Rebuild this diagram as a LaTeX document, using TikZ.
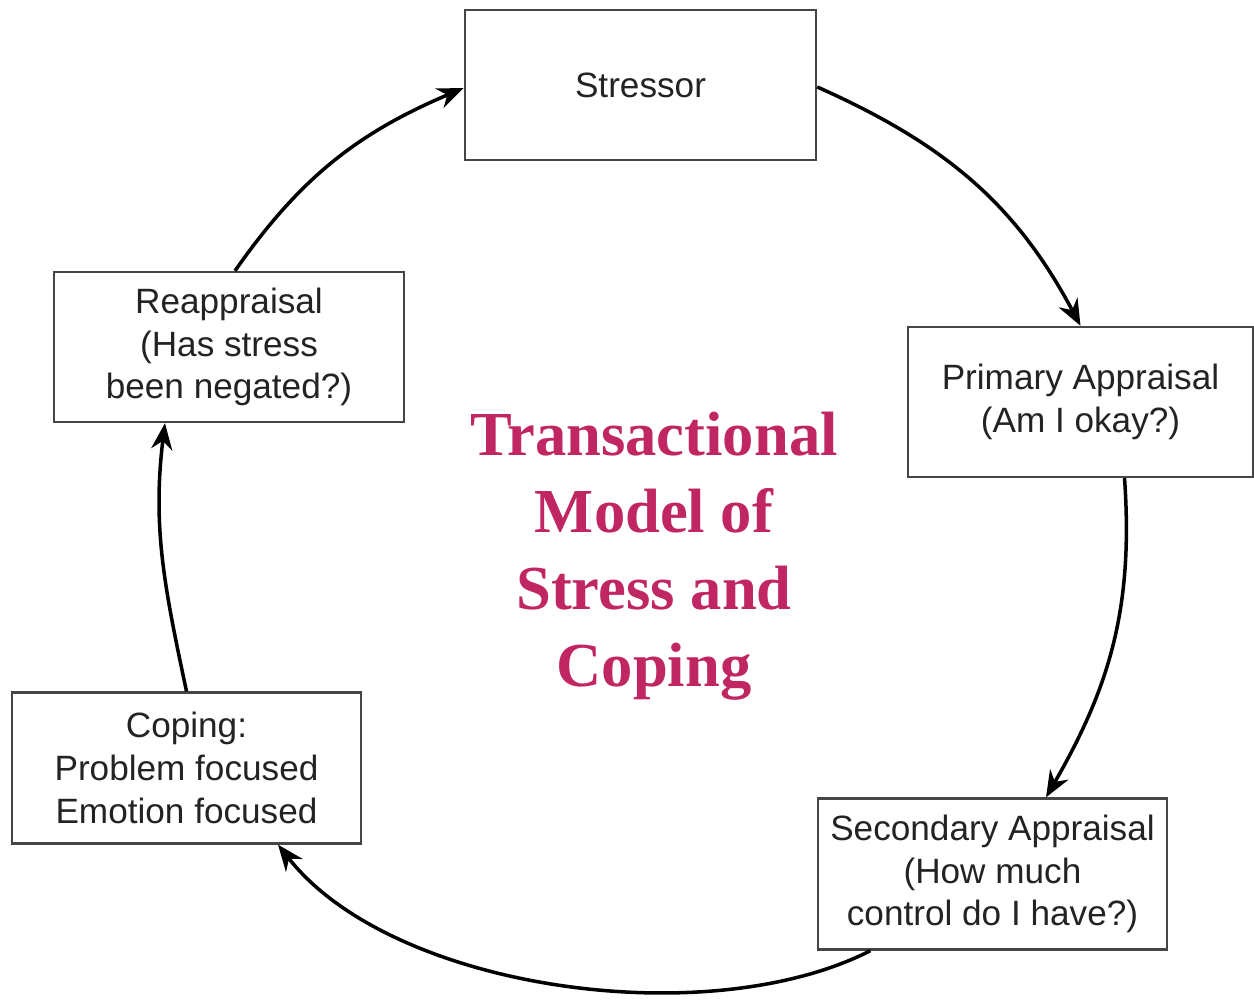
\documentclass[tikz,border=0pt]{standalone}
\usepackage{fontspec}
\setmainfont{Liberation Sans}
\newfontfamily\titlefont{Liberation Serif}
\usetikzlibrary{arrows.meta}
\definecolor{titlecol}{RGB}{192,38,98}
\definecolor{boxline}{RGB}{70,70,70}
\definecolor{txt}{RGB}{35,35,35}
\begin{document}
\begin{tikzpicture}[x=0.01cm,y=-0.01cm,
  stagebox/.style={draw=boxline,line width=0.65pt,rectangle,inner sep=0pt,
    align=center,text=txt,font=\fontsize{10}{12.2}\selectfont},
  flow/.style={line width=1pt,black,-{Stealth[length=7.5pt,width=6pt]}}]
\useasboundingbox (0,0) rectangle (1254,1004);
\node[stagebox,minimum width=3.51cm,minimum height=1.50cm] (stress) at (640.5,85) {Stressor};
\node[stagebox,minimum width=3.45cm,minimum height=1.50cm] (prim) at (1080.5,402) {Primary Appraisal\\(Am I okay?)};
\node[stagebox,minimum width=3.49cm,minimum height=1.51cm] (sec) at (992.5,874) {Secondary Appraisal\\(How much\\control do I have?)};
\node[stagebox,minimum width=3.49cm,minimum height=1.51cm] (cop) at (186.5,768) {Coping:\\Problem focused\\Emotion focused};
\node[stagebox,minimum width=3.50cm,minimum height=1.50cm] (reap) at (229,347) {Reappraisal\\(Has stress\\been negated?)};
\node[align=center,text=titlecol,font=\titlefont\bfseries\fontsize{17.8}{21.9}\selectfont] (title) at (654,556)
  {Transactional\\Model of\\Stress and\\Coping};
\draw[flow] ([yshift=-0.02cm]stress.east) to[out=-24,in=118] (prim.north);
\draw[flow] ([xshift=0.44cm]prim.south) to[out=-86,in=60] ([xshift=0.535cm]sec.north);
\draw[flow] ([xshift=-1.22cm]sec.south) to[out=207,in=-52,looseness=0.78] ([xshift=0.915cm]cop.south);
\draw[flow] (cop.north) to[out=102,in=-97] ([xshift=-0.64cm]reap.south);
\draw[flow] ([xshift=0.06cm]reap.north) to[out=55,in=203] ([yshift=-0.03cm]stress.west);
\end{tikzpicture}
\end{document}
